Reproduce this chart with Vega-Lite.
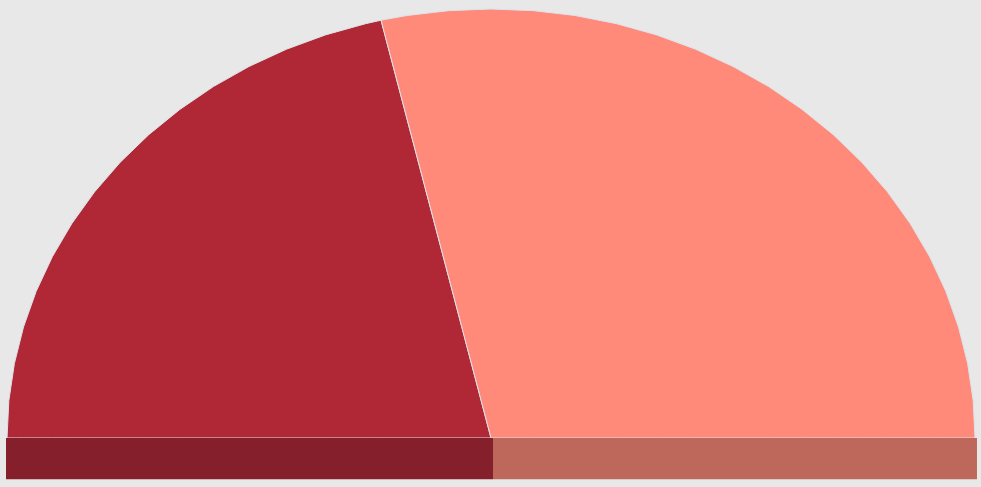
{
  "$schema": "https://vega.github.io/schema/vega-lite/v6.json",
  "width": 981,
  "height": 487,
  "autosize": {"type": "fit", "contains": "padding"},
  "padding": 0,
  "background": "#e8e8e8",
  "config": {"view": {"stroke": null}},
  "datasets": {
    "slices": [
      {"slice": "A", "x": -100, "y": 0, "y2": 0},
      {"slice": "A", "x": -99.62, "y": 8.72, "y2": 0},
      {"slice": "A", "x": -98.48, "y": 17.36, "y2": 0},
      {"slice": "A", "x": -96.59, "y": 25.88, "y2": 0},
      {"slice": "A", "x": -93.97, "y": 34.2, "y2": 0},
      {"slice": "A", "x": -90.63, "y": 42.26, "y2": 0},
      {"slice": "A", "x": -86.6, "y": 50, "y2": 0},
      {"slice": "A", "x": -81.92, "y": 57.36, "y2": 0},
      {"slice": "A", "x": -76.6, "y": 64.28, "y2": 0},
      {"slice": "A", "x": -70.71, "y": 70.71, "y2": 0},
      {"slice": "A", "x": -64.28, "y": 76.6, "y2": 0},
      {"slice": "A", "x": -57.36, "y": 81.92, "y2": 0},
      {"slice": "A", "x": -50, "y": 86.6, "y2": 0},
      {"slice": "A", "x": -42.26, "y": 90.63, "y2": 0},
      {"slice": "A", "x": -34.2, "y": 93.97, "y2": 0},
      {"slice": "A", "x": -25.88, "y": 96.59, "y2": 0},
      {"slice": "A", "x": -22.72, "y": 97.39, "y2": 0},
      {"slice": "A", "x": 0, "y": 0, "y2": 0},
      {"slice": "B", "x": -22.72, "y": 97.39, "y2": 97.39},
      {"slice": "B", "x": -17.36, "y": 98.48, "y2": 74.42},
      {"slice": "B", "x": -8.72, "y": 99.62, "y2": 37.38},
      {"slice": "B", "x": 0, "y": 100, "y2": 0},
      {"slice": "B", "x": 8.72, "y": 99.62, "y2": 0},
      {"slice": "B", "x": 17.36, "y": 98.48, "y2": 0},
      {"slice": "B", "x": 25.88, "y": 96.59, "y2": 0},
      {"slice": "B", "x": 34.2, "y": 93.97, "y2": 0},
      {"slice": "B", "x": 42.26, "y": 90.63, "y2": 0},
      {"slice": "B", "x": 50, "y": 86.6, "y2": 0},
      {"slice": "B", "x": 57.36, "y": 81.92, "y2": 0},
      {"slice": "B", "x": 64.28, "y": 76.6, "y2": 0},
      {"slice": "B", "x": 70.71, "y": 70.71, "y2": 0},
      {"slice": "B", "x": 76.6, "y": 64.28, "y2": 0},
      {"slice": "B", "x": 81.92, "y": 57.36, "y2": 0},
      {"slice": "B", "x": 86.6, "y": 50, "y2": 0},
      {"slice": "B", "x": 90.63, "y": 42.26, "y2": 0},
      {"slice": "B", "x": 93.97, "y": 34.2, "y2": 0},
      {"slice": "B", "x": 96.59, "y": 25.88, "y2": 0},
      {"slice": "B", "x": 98.48, "y": 17.36, "y2": 0},
      {"slice": "B", "x": 99.62, "y": 8.72, "y2": 0},
      {"slice": "B", "x": 100, "y": 0, "y2": 0}
    ],
    "bars": [
      {"bar": "A", "x": -100.21, "x2": 0.41, "y": 0, "y2": -9.63},
      {"bar": "B", "x": 0.41, "x2": 100.41, "y": 0, "y2": -9.63}
    ]
  },
  "layer": [
    {
      "data": {"name": "slices"},
      "mark": {"type": "area", "stroke": "#dde2ea", "strokeWidth": 1, "interpolate": "linear", "orient": "vertical"},
      "encoding": {
        "x": {"field": "x", "type": "quantitative", "axis": null, "scale": {"domain": [-101.45, 101.24], "nice": false, "zero": false}},
        "y": {"field": "y", "type": "quantitative", "axis": null, "stack": null, "scale": {"domain": [-11.42, 102.1], "nice": false, "zero": false}},
        "y2": {"field": "y2"},
        "color": {"field": "slice", "type": "nominal", "legend": null, "scale": {"domain": ["A", "B"], "range": ["#b02836", "#ff8a7a"]}}
      }
    },
    {
      "data": {"name": "bars"},
      "mark": {"type": "rect"},
      "encoding": {
        "x": {"field": "x", "type": "quantitative"},
        "x2": {"field": "x2"},
        "y": {"field": "y", "type": "quantitative"},
        "y2": {"field": "y2"},
        "fill": {"field": "bar", "type": "nominal", "legend": null, "scale": {"domain": ["A", "B"], "range": ["#841f2b", "#be685c"]}}
      }
    }
  ]
}
